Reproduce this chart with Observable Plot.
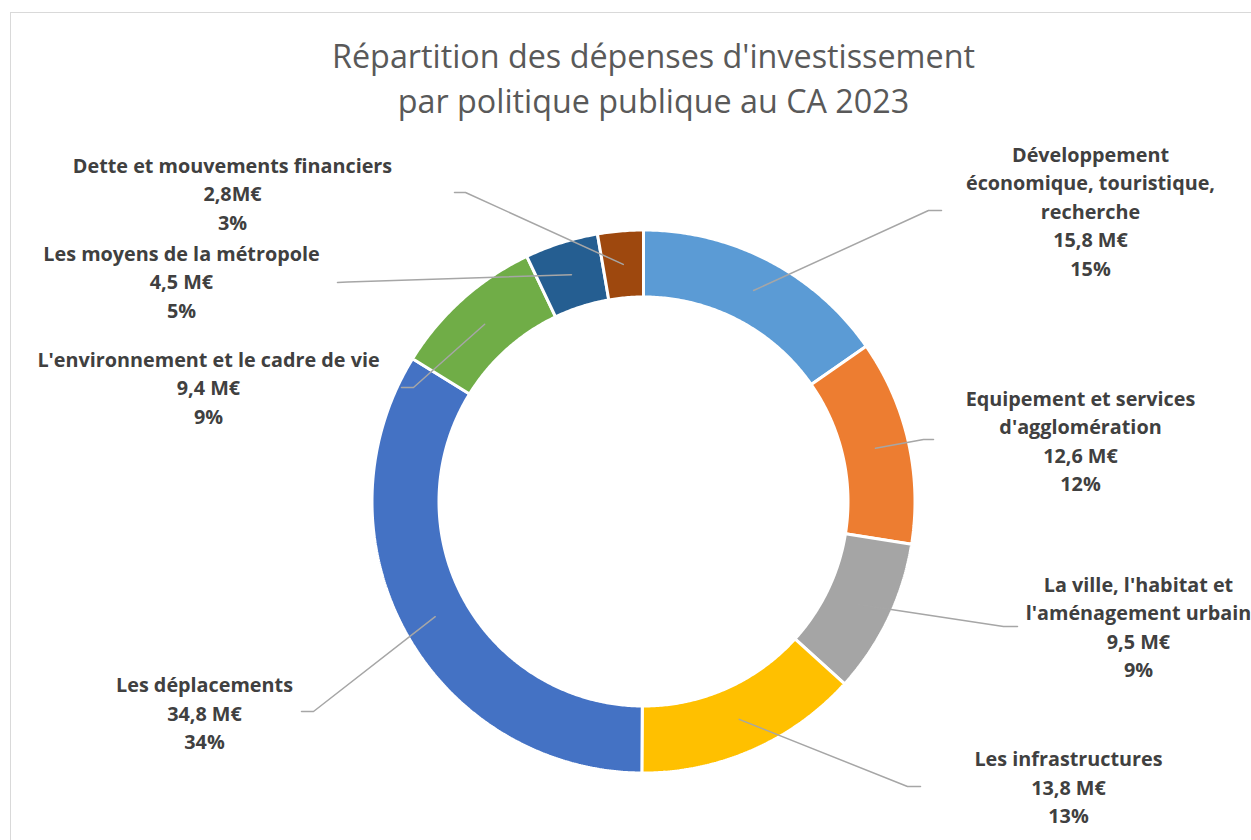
<!DOCTYPE html>
<html>
<head>
<meta charset="utf-8">
<script src="https://cdn.jsdelivr.net/npm/d3@7"></script>
<script src="https://cdn.jsdelivr.net/npm/@observablehq/plot@0.6"></script>
<style>
  html, body { margin: 0; padding: 0; background: #ffffff; }
  #wrap { position: relative; width: 1251px; height: 840px; overflow: hidden; }
  #border { position: absolute; left: 10px; top: 12px; width: 1400px; height: 1000px;
            border: 1.5px solid #d9d9d9; box-sizing: border-box; pointer-events: none; }
</style>
</head>
<body>
<div id="wrap"><div id="border"></div></div>
<script>
// ---- data ----
const categories = [
  "Développement\néconomique, touristique,\nrecherche",
  "Equipement et services\nd'agglomération",
  "La ville, l'habitat et\nl'aménagement urbain",
  "Les infrastructures",
  "Les déplacements",
  "L'environnement et le cadre de vie",
  "Les moyens de la métropole",
  "Dette et mouvements financiers"
];
const values = [15.8, 12.6, 9.5, 13.8, 34.8, 9.4, 4.5, 2.8];
const valueLabels = ["15,8 M€", "12,6 M€", "9,5 M€", "13,8 M€", "34,8 M€", "9,4 M€", "4,5 M€", "2,8M€"];
const pctLabels = ["15%", "12%", "9%", "13%", "34%", "9%", "5%", "3%"];
const colors = ["#5B9BD5", "#ED7D31", "#A5A5A5", "#FFC000", "#4472C4", "#70AD47", "#255E91", "#9E480E"];

// ---- layout (pixels) ----
const W = 1251, H = 840;
const cx = 643, cy = 501, R = 271.5, R0 = 204.5, Rlead = 238;
// label block centre and leader elbow/end per slice
const labelPos = [
  {x: 1090, y: 211, ex: 928, ey: 210, tx: 941, ty: 210},
  {x: 1080, y: 441, ex: 923, ey: 439, tx: 933, ty: 439},
  {x: 1138, y: 627, ex: 1003, ey: 626, tx: 1017, ty: 626},
  {x: 1068, y: 787, ex: 907, ey: 786, tx: 920, ty: 786},
  {x: 204,  y: 713, ex: 313, ey: 711, tx: 301, ty: 711},
  {x: 208,  y: 387.5, ex: 413, ey: 387, tx: 401, ty: 387},
  {x: 181,  y: 281.5, ex: 347, ey: 281.6, tx: 337, ty: 282},
  {x: 232,  y: 193.5, ex: 465, ey: 192, tx: 454, ty: 192}
];

const pie = d3.pie().sort(null).value(d => d)(values);
const pol = (a, rad) => [cx + rad * Math.sin(a), cy - rad * Math.cos(a)];

// slice polygons
const slicePts = [];
pie.forEach((p, i) => {
  const n = Math.max(4, Math.ceil((p.endAngle - p.startAngle) / (Math.PI / 360)));
  for (let k = 0; k <= n; k++) {
    const a = p.startAngle + (p.endAngle - p.startAngle) * k / n;
    const [x, y] = pol(a, R);
    slicePts.push({i, x, y});
  }
  for (let k = n; k >= 0; k--) {
    const a = p.startAngle + (p.endAngle - p.startAngle) * k / n;
    const [x, y] = pol(a, R0);
    slicePts.push({i, x, y});
  }
});

// leader lines
const leaderPts = [];
pie.forEach((p, i) => {
  const mid = (p.startAngle + p.endAngle) / 2;
  const [sx, sy] = pol(mid, Rlead);
  const L = labelPos[i];
  leaderPts.push({i, x: sx, y: sy}, {i, x: L.ex, y: L.ey}, {i, x: L.tx, y: L.ty});
});

const labels = categories.map((c, i) => ({
  text: c + "\n" + valueLabels[i] + "\n" + pctLabels[i],
  x: labelPos[i].x, y: labelPos[i].y
}));

const titleLines = [
  {text: "Répartition des dépenses d'investissement", x: 653, y: 57},
  {text: "par politique publique au CA 2023", x: 653, y: 102}
];

const chart = Plot.plot({
  width: W, height: H,
  margin: 0,
  x: {domain: [0, W], range: [0, W], axis: null},
  y: {domain: [0, H], range: [0, H], axis: null},
  style: {background: "transparent"},
  marks: [
    Plot.line(slicePts, {x: "x", y: "y", z: "i", curve: "linear-closed",
      fill: d => colors[d.i], stroke: "#ffffff", strokeWidth: 3, strokeLinejoin: "miter"}),
    Plot.line(leaderPts, {x: "x", y: "y", z: "i", stroke: "#a6a6a6", strokeWidth: 1.5}),
    Plot.text(labels, {x: "x", y: "y", text: "text", lineAnchor: "middle", textAnchor: "middle",
      dy: -2,
      fontFamily: "'Open Sans', sans-serif", fontWeight: "bold", fontSize: 19.8,
      lineHeight: 1.44, fill: "#404040"}),
    Plot.text(titleLines, {x: "x", y: "y", text: "text", textAnchor: "middle", lineAnchor: "middle",
      fontFamily: "'Open Sans', sans-serif", fontWeight: 400, fontSize: 32.3, fill: "#595959"})
  ]
});
chart.style.position = "absolute";
chart.style.left = "0px";
chart.style.top = "0px";
document.getElementById("wrap").insertBefore(chart, document.getElementById("border"));
</script>
</body>
</html>
